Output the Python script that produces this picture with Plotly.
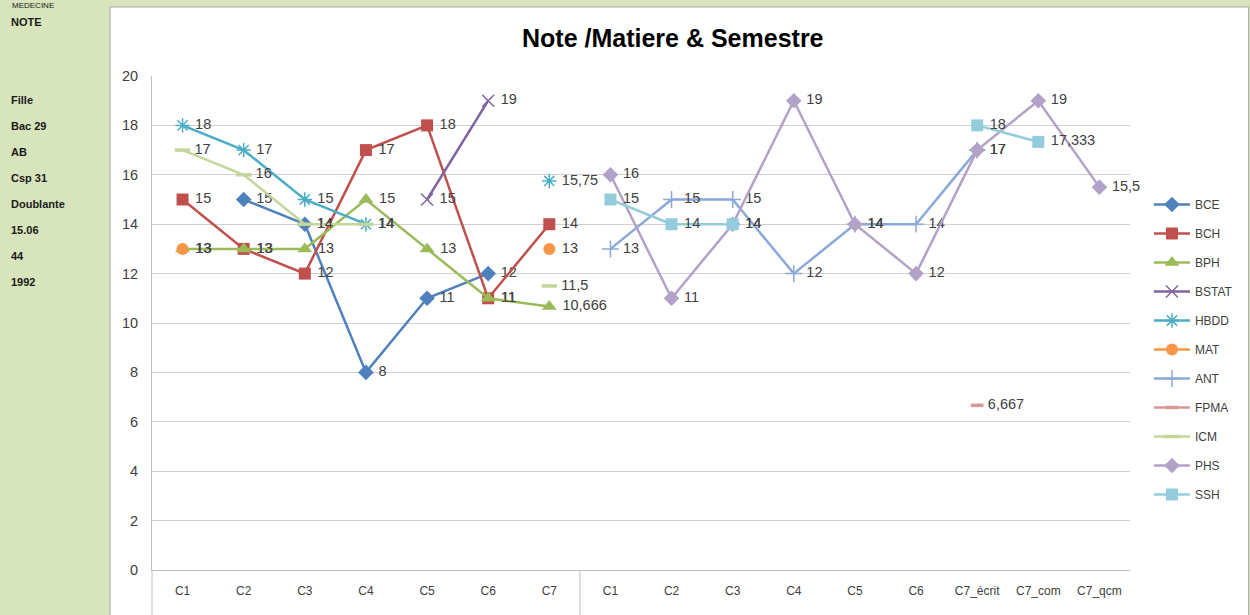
import plotly.graph_objects as go

# ---- data ----
tick_labels = ["C1", "C2", "C3", "C4", "C5", "C6", "C7",
               "C1", "C2", "C3", "C4", "C5", "C6", "C7_écrit", "C7_com", "C7_qcm"]
N = None
BCE   = [N, 15, 14, 8, 11, 12, N,   N, N, N, N, N, N, N, N, N]
BCH   = [15, 13, 12, 17, 18, 11, 14, N, N, N, N, N, N, N, N, N]
BPH   = [13, 13, 13, 15, 13, 11, 10.666, N, N, N, N, N, N, N, N, N]
BSTAT = [N, N, N, N, 15, 19, N,     N, N, N, N, N, N, N, N, N]
HBDD  = [18, 17, 15, 14, N, N, 15.75, N, N, N, N, N, N, N, N, N]
MAT   = [13, N, N, N, N, N, 13,     N, N, N, N, N, N, N, N, N]
ANT   = [N, N, N, N, N, N, N,       13, 15, 15, 12, 14, 14, 17, N, N]
FPMA  = [N, N, N, N, N, N, N,       N, N, N, N, N, N, 6.667, N, N]
ICM   = [17, 16, 14, 14, N, N, 11.5, N, N, N, N, N, N, N, N, N]
PHS   = [N, N, N, N, N, N, N,       16, 11, 14, 19, 14, 12, 17, 19, 15.5]
SSH   = [N, N, N, N, N, N, N,       15, 14, 14, N, N, N, 18, 17.333, N]

side_lines = ["NOTE", "", "", "Fille", "Bac 29", "AB", "Csp 31", "Doublante", "15.06", "44", "1992"]

series = [
    ("BCE", BCE, "#4F81BD", "diamond", 12),
    ("BCH", BCH, "#C0504D", "square", 12),
    ("BPH", BPH, "#9BBB59", "triangle-up", 13),
    ("BSTAT", BSTAT, "#8064A2", "x-thin-open", 12),
    ("HBDD", HBDD, "#4BACC6", "asterisk-open", 12),
    ("MAT", MAT, "#F79646", "circle", 12),
    ("ANT", ANT, "#8AA8D8", "cross-thin-open", 12),
    ("FPMA", FPMA, "#D99694", "line-ew-open", 9),
    ("ICM", ICM, "#C3D69B", "line-ew-open", 11),
    ("PHS", PHS, "#B3A2C7", "diamond", 12),
    ("SSH", SSH, "#93CDDD", "square", 12),
]

xs = list(range(len(tick_labels)))


def fmt(v):
    if v is None:
        return ""
    return "\u00a0" + f"{v:g}".replace(".", ",")


fig = go.Figure()
for name, vals, col, sym, size in series:
    open_sym = sym.endswith("open")
    lw = 0
    if open_sym:
        lw = 3.5 if sym.startswith("line") else 1.5
    fig.add_trace(go.Scatter(
        x=xs, y=vals, name=name, legendgroup=name,
        mode="lines+markers+text",
        line=dict(color=col, width=2.5),
        marker=dict(symbol=sym, size=size, color=col,
                    line=dict(color=col, width=lw)),
        text=[fmt(v) for v in vals],
        textposition="middle right",
        textfont=dict(family="Liberation Sans", size=14.5, color="#404040"),
        cliponaxis=False,
        connectgaps=False,
    ))

W, H = 1250, 615
L, R, T, B = 152, 117, 76, 45
pw, ph = W - L - R, H - T - B


def px_x(p):
    return (p - L) / pw


def px_y(p):
    return (H - B - p) / ph


shapes = [
    # white chart area
    dict(type="rect", xref="paper", yref="paper", layer="below",
         x0=px_x(110), x1=px_x(1252), y0=px_y(617), y1=px_y(7),
         fillcolor="white", line=dict(color="#A6A6A6", width=1)),
    # category group separator
    dict(type="line", xref="x", yref="paper", x0=6.5, x1=6.5,
         y0=px_y(615), y1=0, line=dict(color="#BFBFBF", width=1)),
    dict(type="line", xref="paper", yref="paper", x0=0, x1=0,
         y0=px_y(615), y1=0, line=dict(color="#BFBFBF", width=1)),
]

annotations = [
    dict(text="MEDECINE", xref="paper", yref="paper", x=px_x(10), y=px_y(-1),
         xanchor="left", yanchor="top", showarrow=False,
         font=dict(family="Liberation Sans", size=8, color="#1a1a1a")),
]
for i, s in enumerate(side_lines):
    if s:
        annotations.append(dict(
            text="<b>%s</b>" % s, xref="paper", yref="paper",
            x=px_x(9), y=px_y(22 + 26 * i), xanchor="left", yanchor="middle",
            showarrow=False,
            font=dict(family="Liberation Sans", size=11, color="#1a1a1a")))

fig.update_layout(
    width=W, height=H,
    margin=dict(l=L, r=R, t=T, b=B),
    paper_bgcolor="#D8E4BC",
    plot_bgcolor="white",
    title=dict(text="<b>Note /Matiere & Semestre</b>", x=px_x(680), xanchor="center",
               y=1 - 38 / H, yanchor="middle",
               font=dict(family="Liberation Sans", size=25, color="#000000")),
    xaxis=dict(range=[-0.5, len(xs) - 0.5], tickmode="array", tickvals=xs,
               ticktext=tick_labels, tickangle=0, showgrid=False, zeroline=False,
               showline=True, linecolor="#BFBFBF", linewidth=1, ticks="",
               ticklabelstandoff=10,
               tickfont=dict(family="Liberation Sans", size=12, color="#404040"),
               fixedrange=True),
    yaxis=dict(range=[0, 20], dtick=2, tick0=0, showgrid=True, gridcolor="#D0D0D0",
               gridwidth=1, zeroline=False, showline=True, linecolor="#BFBFBF",
               linewidth=1, ticks="", ticklabelstandoff=10,
               tickfont=dict(family="Liberation Sans", size=14.5, color="#404040"),
               fixedrange=True),
    legend=dict(x=px_x(1152), y=px_y(190), xanchor="left", yanchor="top",
                bgcolor="rgba(0,0,0,0)", tracegroupgap=10, itemwidth=36,
                font=dict(family="Liberation Sans", size=12, color="#404040")),
    shapes=shapes,
    annotations=annotations,
    showlegend=True,
)

fig.write_html(
    "out.html",
    config={"displayModeBar": False},
    post_script="document.body.style.margin='0';document.body.style.background='#D8E4BC';",
)
